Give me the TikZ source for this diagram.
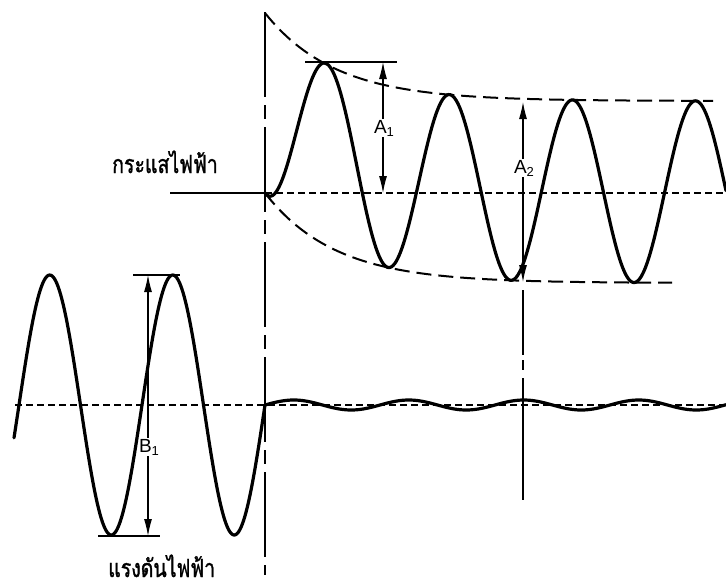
\documentclass[tikz,border=0pt]{standalone}
\usepackage{fontspec}
\newfontfamily\thaifont[Script=Thai, FakeStretch=0.78, FakeBold=1.2]{Loma}
\newfontfamily\lblfont{Liberation Sans}
\usetikzlibrary{arrows.meta}
\begin{document}
\begin{tikzpicture}[x=1pt,y=-1pt,
  wave/.style={line width=3.2pt, line join=round, line cap=round},
  axisdash/.style={line width=1.5pt, dash pattern=on 7pt off 4pt},
  envdash/.style={line width=2pt, dash pattern=on 15pt off 7pt},
  chainA/.style={line width=1.4pt, dash pattern=on 85pt off 8pt on 14pt off 8pt},
  chainB/.style={line width=1.4pt, dash pattern=on 65pt off 5pt on 10pt off 8pt on 300pt off 1pt},
  tickline/.style={line width=1.5pt},
  dimarrow/.style={line width=1.1pt, -{Latex[length=17pt,width=8pt]}},
  lbl/.style={font=\lblfont\fontsize{19}{19}\selectfont, inner sep=1pt},
  thailbl/.style={font=\thaifont\fontsize{25}{25}\selectfont, inner sep=0pt, anchor=base west}]
\useasboundingbox (0,0) rectangle (726,587);

% coordinates
\coordinate (c0) at (265,193);
\coordinate (cL) at (170,193);
\coordinate (cR) at (726,193);
\coordinate (vL) at (15,405);
\coordinate (vR) at (726,405);
\coordinate (v1t) at (265,12);
\coordinate (v1b) at (265,575);
\coordinate (v2t) at (523,290);
\coordinate (v2b) at (523,500);

% vertical chain lines
\draw[chainA] (v1t) -- (v1b);
\draw[chainB] (v2t) -- (v2b);

% axes
\draw[axisdash] (c0) -- (cR);
\draw[axisdash] (vL) -- (vR);
\draw[line width=2.6pt] (cL) -- (c0);

% envelopes
\draw[envdash] plot[domain=265:713, samples=120] ({\x},{101-88*exp(-(\x-265)/70)});
\draw[envdash] plot[domain=265:672, samples=120] ({\x},{283-90*exp(-(\x-265)/70)});

% current wave
\draw[wave] plot[domain=265:726, samples=300] ({\x},{192-90*exp(-(\x-265)/70)+91*cos((\x-265)/123*360)});

% voltage wave
\draw[wave] plot[domain=14:265, samples=200] ({\x},{405-130*sin((\x-265)/123*360)});
\draw[wave] plot[domain=265:726, samples=200] ({\x},{405-5*sin((\x-265)/115*360)});

% A1
\coordinate (t1a) at (305,62);
\coordinate (t1b) at (397,62);
\draw[tickline] (t1a) -- (t1b);
\node[lbl] (A1) at (384,128) {A\raisebox{-3pt}{\fontsize{13}{13}\selectfont 1}};
\coordinate (A1top) at (383,62);
\coordinate (A1bot) at (383,193);
\draw[dimarrow] (A1.north -| A1top) -- (A1top);
\draw[dimarrow] (A1.south -| A1top) -- (A1bot);

% A2
\node[lbl] (A2) at (524,168) {A\raisebox{-3pt}{\fontsize{13}{13}\selectfont 2}};
\coordinate (A2top) at (523,102);
\coordinate (A2bot) at (523,282);
\draw[dimarrow] (A2.north -| A2top) -- (A2top);
\draw[dimarrow] (A2.south -| A2top) -- (A2bot);

% B1
\coordinate (b1a) at (133,275);
\coordinate (b1b) at (180,275);
\coordinate (b2a) at (98,536);
\coordinate (b2b) at (160,536);
\draw[tickline] (b1a) -- (b1b);
\draw[tickline] (b2a) -- (b2b);
\node[lbl] (B1) at (149,447) {B\raisebox{-3pt}{\fontsize{13}{13}\selectfont 1}};
\coordinate (B1top) at (148,275);
\coordinate (B1bot) at (148,536);
\draw[dimarrow] (B1.north -| B1top) -- (B1top);
\draw[dimarrow] (B1.south -| B1top) -- (B1bot);

% Thai labels
\node[thailbl] (lcur) at (112,173) {กระแสไฟฟ้า};
\node[thailbl] (lvol) at (108,577) {แรงดันไฟฟ้า};
\end{tikzpicture}
\end{document}
